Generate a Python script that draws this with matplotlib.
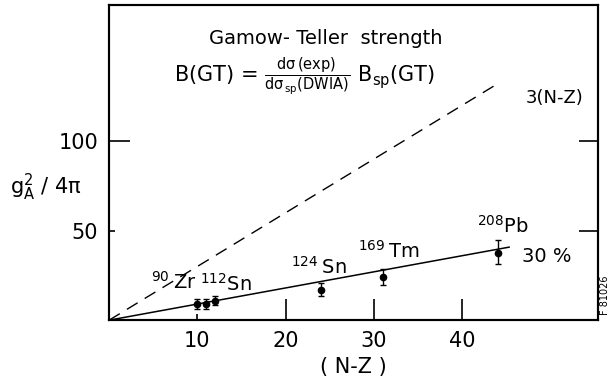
import numpy as np
import matplotlib
matplotlib.use('Agg')
import matplotlib.pyplot as plt

plt.rcParams['font.family'] = ['DejaVu Sans']
plt.rcParams['mathtext.fontset'] = 'dejavusans'
plt.rcParams['mathtext.default'] = 'regular'

# measured GT strength vs (N-Z)
nz = [10, 11, 12, 24, 31, 44]
gt = [9.1, 9.1, 10.8, 16.6, 23.9, 37.7]
err_lo = [2.6, 2.6, 2.5, 3.2, 4.3, 6.5]
err_hi = [2.6, 2.6, 2.5, 3.9, 4.5, 7.1]

# nucleus labels (mass number, symbol, position of baseline)
nuclei = ['90', '112', '124', '169', '208']
symbols = ['Zr', 'Sn', 'Sn', 'Tm', 'Pb']
gaps = ['\u2009', '', '\u2009', '\u2009', '']
lab_x = [7.3, 13.2, 23.8, 31.7, 44.6]
lab_y = [17.5, 16.3, 25.7, 34.7, 48.7]

sum_rule_x = [0, 44]       # 3(N-Z) dashed line
fit_x = [0, 45.3]          # 30 % line
fit_frac = 0.30

fig = plt.figure(figsize=(6.13, 3.78), dpi=100)
ax = fig.add_axes([0.178, 0.153, 0.798, 0.834])

ax.plot(sum_rule_x, [3 * x for x in sum_rule_x], color='black', lw=1.0,
        dashes=(9, 6))
ax.plot(fit_x, [3 * fit_frac * x for x in fit_x], color='black', lw=1.1)
ax.errorbar(nz, gt, yerr=[err_lo, err_hi], fmt='o', color='black', ms=4.5,
            capsize=2.5, elinewidth=1.0, capthick=1.0)

for m, g, s, x, y in zip(nuclei, gaps, symbols, lab_x, lab_y):
    ax.text(x, y, r'$^{%s}$%s%s' % (m, g, s), fontsize=14, ha='center',
            va='baseline')

ax.text(24.5, 157, 'Gamow- Teller  strength', fontsize=14, ha='center',
        va='center')
ax.text(7.4, 136, r'B(GT) = $\frac{\mathrm{d\sigma\,(exp)}}{\mathrm{d\sigma_{\,sp}(DWIA)}}$ B$_{sp}$(GT)',
        fontsize=15, ha='left', va='center')
ax.text(50.5, 124, '3(N-Z)', fontsize=13, ha='center', va='center')
ax.text(49.6, 35.6, '30 %', fontsize=14, ha='center', va='center')

ax.set_xlim(0, 55.4)
ax.set_ylim(0, 176)

# long ticks are major, the short ones at 10 and 50 are minor
ax.set_xticks([20, 30, 40])
ax.set_xticks([10], minor=True)
ax.set_xticklabels(['10'], minor=True)
ax.set_yticks([100])
ax.set_yticks([50], minor=True)
ax.set_yticklabels(['50'], minor=True)
ax.tick_params(which='major', direction='in', length=15, width=1.2,
               labelsize=15, pad=8)
ax.tick_params(which='minor', direction='in', length=4, width=1.2,
               labelsize=15, pad=8)

# right side ticks
ax2 = ax.twinx()
ax2.set_ylim(0, 176)
ax2.set_yticks([50, 100])
ax2.tick_params(direction='in', length=14, width=1.2, labelright=False)

for sp in list(ax.spines.values()) + list(ax2.spines.values()):
    sp.set_linewidth(1.5)

ax.set_xlabel('( N-Z )', fontsize=15, labelpad=4)
fig.text(0.075, 0.505, r'g$_A^2$ / 4$\pi$', fontsize=15, ha='center',
         va='center')
fig.text(0.987, 0.22, 'F 81026', fontsize=7, rotation=90, ha='center',
         va='center')

fig.savefig('out.png', dpi=100)
